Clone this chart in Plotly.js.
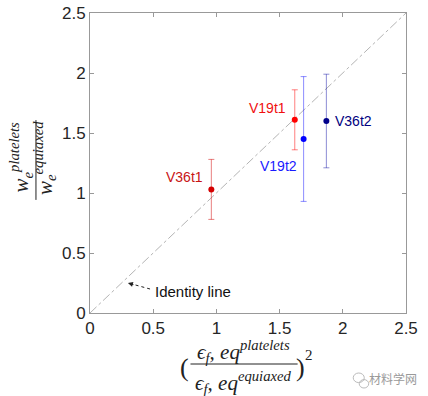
<!DOCTYPE html>
<html>
<head>
<meta charset="utf-8">
<script src="https://cdn.plot.ly/plotly-3.0.1.min.js"></script>
<style>html,body{margin:0;padding:0;background:#fff;}#chart{width:428px;height:396px;}</style>
</head>
<body>
<div id="chart"></div>
<script>
// ---- data ----
const labels = ['V36t1', 'V19t1', 'V19t2', 'V36t2'];
const xVals = [0.96, 1.62, 1.69, 1.87];
const yVals = [1.03, 1.61, 1.45, 1.60];
const yErr = [0.25, 0.25, 0.52, 0.39];
const identityX = [0, 2.5];
const identityY = [0, 2.5];
const tickVals = [0, 0.5, 1, 1.5, 2, 2.5];
const tickText = ['0', '0.5', '1', '1.5', '2', '2.5'];

// ---- styles ----
const markerColors = ['#d40000', '#ff0000', '#0000ff', '#00008b'];
const barColors = ['rgba(210,0,0,0.5)', 'rgba(255,0,0,0.5)', 'rgba(0,0,255,0.45)', 'rgba(0,0,160,0.45)'];
const textColors = ['#c81414', '#f01010', '#1a1aff', '#000080'];
const labelShift = [[-27, 12], [-27, 12], [-25, -27], [27, 0]];

const traces = [{
  x: identityX, y: identityY, mode: 'lines', type: 'scatter',
  line: {color: '#b4b4b4', width: 1, dash: 'dashdot'}, hoverinfo: 'skip', showlegend: false
}];
labels.forEach((lab, i) => {
  traces.push({
    x: [xVals[i]], y: [yVals[i]], type: 'scatter', mode: 'markers', name: lab,
    marker: {color: markerColors[i], size: 6},
    error_y: {type: 'data', array: [yErr[i]], visible: true, color: barColors[i], thickness: 1, width: 3},
    showlegend: false
  });
});

const serif = 'Liberation Serif, Times New Roman, serif';
const sans = 'Liberation Sans, Arial, sans-serif';
const C = {xanchor: 'center', yanchor: 'middle', showarrow: false, xref: 'paper', yref: 'paper'};

const annotations = labels.map((lab, i) => ({
  x: xVals[i], y: yVals[i], xref: 'x', yref: 'y', text: lab, showarrow: false,
  xanchor: 'center', yanchor: 'middle',
  xshift: labelShift[i][0], yshift: labelShift[i][1],
  font: {family: sans, size: 14, color: textColors[i]}
}));
// identity line label + arrow
annotations.push({
  x: 0.815, y: 0.183, xref: 'x', yref: 'y', xanchor: 'center', yanchor: 'middle', showarrow: false,
  text: 'Identity line', font: {family: sans, size: 15, color: '#111'}
});
annotations.push({
  x: 0.30, y: 0.25, xref: 'x', yref: 'y', ax: 7, ay: 2, text: '', showarrow: true,
  arrowhead: 2, arrowsize: 1, arrowwidth: 1, arrowcolor: '#222', standoff: 0
});
// y-axis title (fraction, rotated)
annotations.push(Object.assign({}, C, {
  x: -0.22, y: 0.52, textangle: -90,
  text: '<i>w<sub>e</sub><sup>platelets</sup></i>',
  font: {family: serif, size: 21, color: '#222'}
}));
annotations.push(Object.assign({}, C, {
  x: -0.142, y: 0.517, textangle: -90,
  text: '<i>w<sub>e</sub><sup>equiaxed</sup></i>',
  font: {family: serif, size: 21, color: '#222'}
}));
// x-axis title (fraction)
annotations.push(Object.assign({}, C, {
  x: 0.487, y: -0.127,
  text: '<i>ϵ<sub>f</sub>,&nbsp;eq<sup>platelets</sup></i>',
  font: {family: serif, size: 21, color: '#222'}
}));
annotations.push(Object.assign({}, C, {
  x: 0.487, y: -0.23,
  text: '<i>ϵ<sub>f</sub>,&nbsp;eq<sup>equiaxed</sup></i>',
  font: {family: serif, size: 21, color: '#222'}
}));
annotations.push(Object.assign({}, C, {
  x: 0.3, y: -0.183, text: '(', font: {family: serif, size: 26, color: '#222'}
}));
annotations.push(Object.assign({}, C, {
  x: 0.665, y: -0.183, text: ')', font: {family: serif, size: 26, color: '#222'}
}));
annotations.push(Object.assign({}, C, {
  x: 0.693, y: -0.14, text: '2', font: {family: serif, size: 15, color: '#222'}
}));
// watermark
annotations.push(Object.assign({}, C, {
  x: 0.959, y: -0.217, text: '材料学网',
  font: {family: 'Noto Sans CJK SC, sans-serif', size: 12, color: '#9a9a9a'}
}));

const layout = {
  width: 428, height: 396,
  margin: {l: 90, r: 22, t: 13, b: 83},
  paper_bgcolor: '#fff', plot_bgcolor: '#fff',
  font: {family: sans, size: 17, color: '#262626'},
  xaxis: {
    range: [0, 2.5], tickvals: tickVals, ticktext: tickText, ticks: 'inside', ticklen: 4,
    tickcolor: '#999', showline: true, linecolor: '#999', linewidth: 1, mirror: 'ticks',
    showgrid: false, zeroline: false, fixedrange: true
  },
  yaxis: {
    range: [0, 2.5], tickvals: tickVals, ticktext: tickText, ticks: 'inside', ticklen: 4,
    tickcolor: '#999', showline: true, linecolor: '#999', linewidth: 1, mirror: 'ticks',
    showgrid: false, zeroline: false, fixedrange: true
  },
  shapes: [
    // dotted arrow shaft of the identity-line callout
    {type: 'line', xref: 'x', yref: 'y', x0: 0.475, y0: 0.2, x1: 0.33, y1: 0.242,
     line: {color: '#222', width: 1, dash: 'dot'}},
    // fraction bars
    {type: 'line', xref: 'paper', yref: 'paper', x0: -0.171, x1: -0.171, y0: 0.377, y1: 0.643,
     line: {color: '#222', width: 1}},
    {type: 'line', xref: 'paper', yref: 'paper', x0: 0.318, x1: 0.657, y0: -0.17, y1: -0.17,
     line: {color: '#222', width: 1}},
    // watermark icon
    {type: 'circle', xref: 'paper', yref: 'paper', x0: 0.833, x1: 0.868, y0: -0.232, y1: -0.2,
     line: {color: '#bbb', width: 1}},
    {type: 'circle', xref: 'paper', yref: 'paper', x0: 0.852, x1: 0.882, y0: -0.25, y1: -0.222,
     line: {color: '#bbb', width: 1}}
  ],
  annotations: annotations,
  showlegend: false
};

Plotly.newPlot('chart', traces, layout, {displayModeBar: false, staticPlot: true});
</script>
</body>
</html>
